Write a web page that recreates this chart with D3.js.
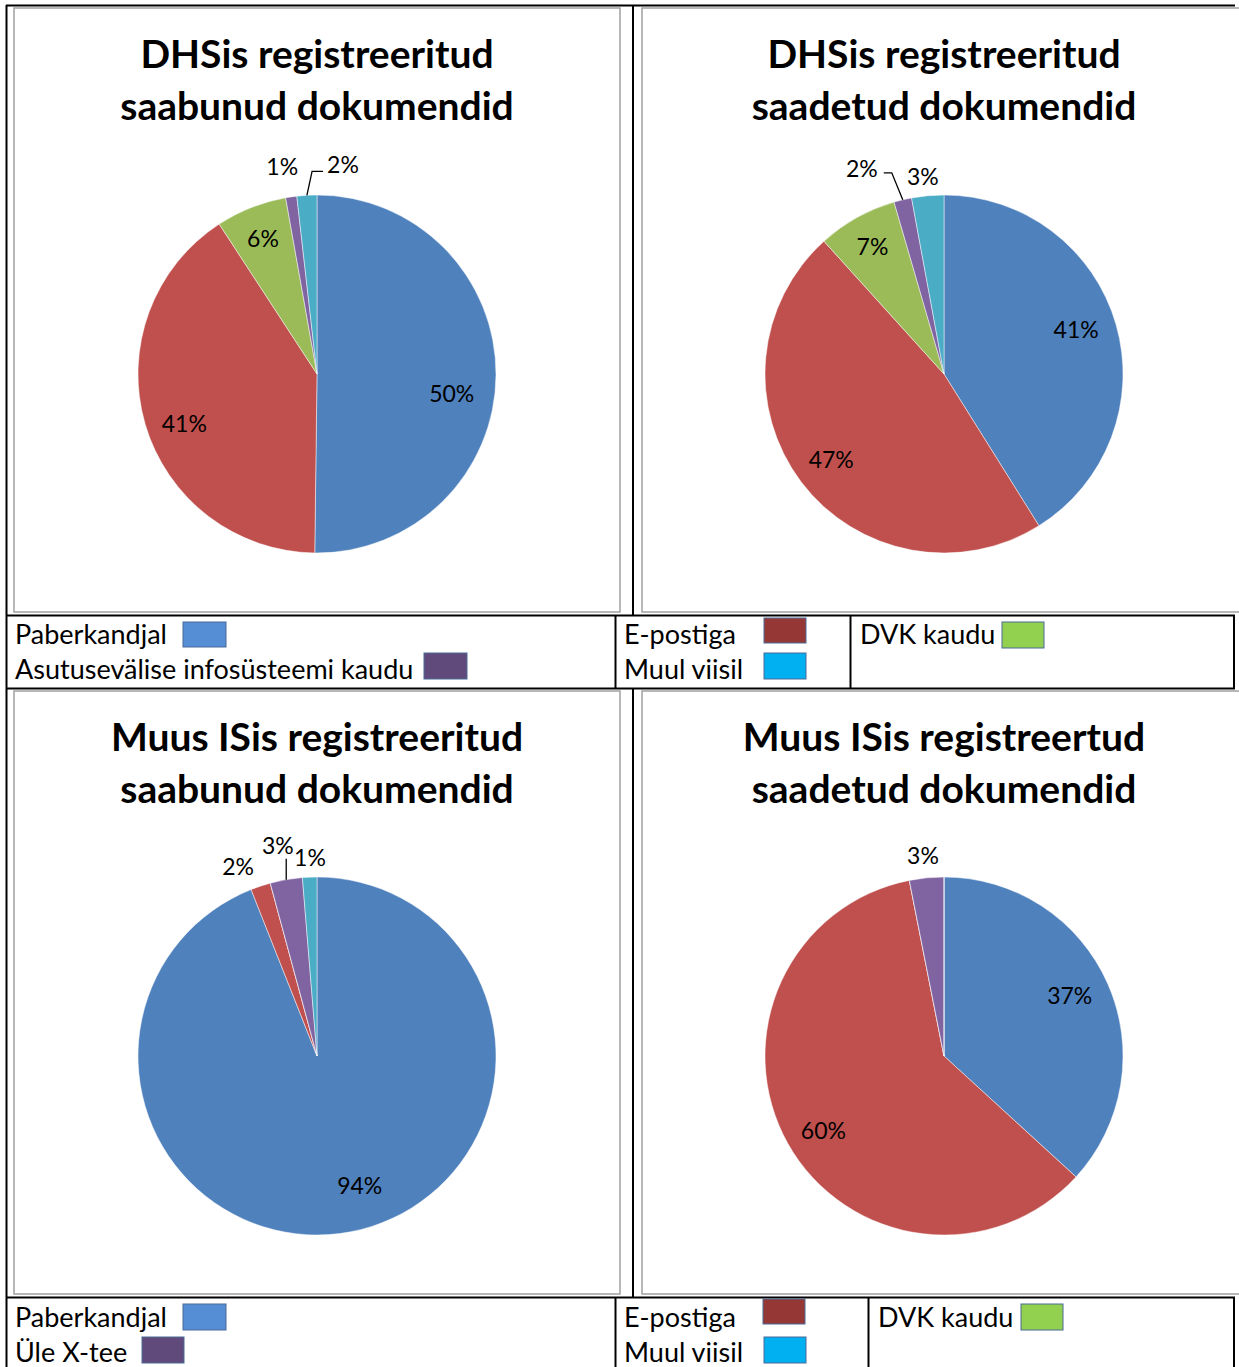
<!DOCTYPE html>
<html>
<head>
<meta charset="utf-8">
<script src="https://cdn.jsdelivr.net/npm/d3@7"></script>
<style>
  html, body { margin: 0; padding: 0; background: #fff; }
  svg { display: block; }
  text { font-family: Lato, "Noto Sans", sans-serif; fill: #000; }
</style>
</head>
<body>
<svg id="chart" width="1239" height="1367"></svg>
<script>
// ---------------- DATA ----------------
const categoriesTop = ["Paberkandjal", "E-postiga", "DVK kaudu", "Asutusevälise infosüsteemi kaudu", "Muul viisil"];
const categoriesBottom = ["Paberkandjal", "E-postiga", "DVK kaudu", "Üle X-tee", "Muul viisil"];

const titleDhsIn = ["DHSis registreeritud", "saabunud dokumendid"];
const titleDhsOut = ["DHSis registreeritud", "saadetud dokumendid"];
const titleIsIn = ["Muus ISis registreeritud", "saabunud dokumendid"];
const titleIsOut = ["Muus ISis registreertud", "saadetud dokumendid"];

// percentages per category (order = categories)
const valuesDhsIn = [50.2, 40.6, 6.4, 1.0, 1.8];
const valuesDhsOut = [41.1, 47.2, 7.2, 1.6, 2.9];
const valuesIsIn = [94.0, 1.8, 0, 2.9, 1.3];
const valuesIsOut = [36.8, 60.1, 0, 3.1, 0];

// ---------------- STYLE / LAYOUT ----------------
const sliceColors = ["#4F81BD", "#C0504D", "#9BBB59", "#8064A2", "#4BACC6"];
const swatchColors = ["#558ED5", "#953735", "#92D050", "#604A7B", "#00B0F0"];

const svg = d3.select("#chart");
const R = 179;

// label placement: k = radial factor, da = angular offset (deg), leader type
const charts = [
  { title: titleDhsIn, values: valuesDhsIn, cx: 317, cy: 374, ty: 68,
    labels: [{k:0.76,da:7.6},{k:0.79,da:-4},{k:0.82,da:0},{k:1.18,da:-1.2},{k:1.18,da:10.3,leader:"left"}] },
  { title: titleDhsOut, values: valuesDhsOut, cx: 944, cy: 374, ty: 68,
    labels: [{k:0.78,da:-2.8},{k:0.79,da:0},{k:0.82,da:0},{k:1.24,da:-8.4,leader:"right"},{k:1.11,da:-0.9}] },
  { title: titleIsIn, values: valuesIsIn, cx: 317, cy: 1056, ty: 751,
    labels: [{k:0.76,da:-7.5},{k:1.15,da:-4.2},{k:1,da:0},{k:1.2,da:-0.6,leader:"down"},{k:1.11,da:0.3}] },
  { title: titleIsOut, values: valuesIsOut, cx: 944, cy: 1056, ty: 751,
    labels: [{k:0.78,da:-2},{k:0.79,da:-2.1},{k:1,da:0},{k:1.13,da:-0.4},{k:1,da:0}] }
];

// ---------------- TABLE / FRAMES ----------------
const frames = [
  {x:14, y:8, w:606, h:604}, {x:642, y:8, w:610, h:604},
  {x:14, y:691, w:606, h:603}, {x:642, y:691, w:610, h:603}
];
svg.selectAll("rect.frame").data(frames).join("rect")
  .attr("class","frame")
  .attr("x", d=>d.x).attr("y", d=>d.y).attr("width", d=>d.w).attr("height", d=>d.h)
  .attr("fill","none").attr("stroke","#A6A6A6").attr("stroke-width",1.6);

const tableLines = [
  [6, 5.5, 1235, 5.5],        // top
  [6.5, 5, 6.5, 1367],        // left
  [633, 5, 633, 615],         // between top charts
  [633, 689, 633, 1297],      // between bottom charts
  [6, 615.5, 1235, 615.5],
  [6, 688.5, 1235, 688.5],
  [615.5, 615, 615.5, 689],
  [850.5, 615, 850.5, 689],
  [1234, 615, 1234, 689],
  [6, 1297.5, 1235, 1297.5],
  [615.5, 1297, 615.5, 1367],
  [868.5, 1297, 868.5, 1367],
  [1234, 1297, 1234, 1367]
];
svg.selectAll("line.tbl").data(tableLines).join("line")
  .attr("class","tbl")
  .attr("x1", d=>d[0]).attr("y1", d=>d[1]).attr("x2", d=>d[2]).attr("y2", d=>d[3])
  .attr("stroke","#000").attr("stroke-width",2);

// ---------------- PIES ----------------
const pie = d3.pie().sort(null).value(d => d);
const arc = d3.arc().innerRadius(0).outerRadius(R);
const toRad = Math.PI / 180;

charts.forEach(c => {
  const g = svg.append("g");
  // title
  g.selectAll("text.title").data(c.title).join("text")
    .attr("class","title")
    .attr("x", c.cx).attr("y", (d,i) => c.ty + i*52)
    .attr("text-anchor","middle")
    .style("font-weight","700").style("font-size","39px")
    .text(d => d);

  const arcs = pie(c.values);
  const pg = g.append("g").attr("transform", `translate(${c.cx},${c.cy})`);
  pg.selectAll("path").data(arcs).join("path")
    .attr("d", arc)
    .attr("fill", (d,i) => sliceColors[i])
    .attr("stroke", "rgba(255,255,255,0.6)").attr("stroke-width", 0.8);

  arcs.forEach((a, i) => {
    if (a.data <= 0) return;
    const L = c.labels[i];
    const mid = (a.startAngle + a.endAngle) / 2;
    const ang = mid + L.da * toRad;
    const lx = Math.sin(ang) * R * L.k;
    const ly = -Math.cos(ang) * R * L.k;
    const t = pg.append("text")
      .attr("x", lx).attr("y", ly)
      .attr("text-anchor","middle").attr("dominant-baseline","central")
      .style("font-size","23px")
      .text(Math.round(a.data) + "%");
    if (L.leader) {
      const w = t.node().getComputedTextLength();
      const ax = Math.sin(mid) * R, ay = -Math.cos(mid) * R;
      let pts;
      if (L.leader === "left") {
        const cxp = lx - w/2 - 4, cyp = ly + 7;
        pts = [[ax, ay], [cxp - 11, cyp], [cxp, cyp]];
      } else if (L.leader === "right") {
        const cxp = lx + w/2 + 6, cyp = ly + 5;
        pts = [[ax, ay], [cxp + 8, cyp], [cxp, cyp]];
      } else {
        pts = [[ax, ay], [ax, ly + 14]];
      }
      pg.append("path")
        .attr("d", d3.line()(pts))
        .attr("fill","none").attr("stroke","#000").attr("stroke-width",1.3);
    }
  });
});

// ---------------- LEGENDS ----------------
const legendTop = [
  {i:0, tx:15, ty:644, sx:183, sy:622, sw:43, sh:25},
  {i:3, tx:15, ty:679, sx:424, sy:653, sw:43, sh:26},
  {i:1, tx:624, ty:644, sx:764, sy:618, sw:42, sh:25},
  {i:4, tx:624, ty:679, sx:764, sy:653, sw:42, sh:26},
  {i:2, tx:860, ty:644, sx:1002, sy:622, sw:42, sh:26}
];
const legendBottom = [
  {i:0, tx:15, ty:1327, sx:183, sy:1304, sw:43, sh:26},
  {i:3, tx:15, ty:1362, sx:142, sy:1337, sw:42, sh:26},
  {i:1, tx:624, ty:1327, sx:763, sy:1299, sw:42, sh:25},
  {i:4, tx:624, ty:1362, sx:764, sy:1337, sw:42, sh:26},
  {i:2, tx:878, ty:1327, sx:1021, sy:1304, sw:42, sh:26}
];
function drawLegend(items, cats) {
  const lg = svg.append("g");
  lg.selectAll("text").data(items).join("text")
    .attr("x", d=>d.tx).attr("y", d=>d.ty)
    .style("font-size","27px")
    .text(d => cats[d.i]);
  lg.selectAll("rect").data(items).join("rect")
    .attr("x", d=>d.sx).attr("y", d=>d.sy).attr("width", d=>d.sw).attr("height", d=>d.sh)
    .attr("fill", d => swatchColors[d.i])
    .attr("stroke", "#4A6A96").attr("stroke-width", 1);
}
drawLegend(legendTop, categoriesTop);
drawLegend(legendBottom, categoriesBottom);
</script>
</body>
</html>
